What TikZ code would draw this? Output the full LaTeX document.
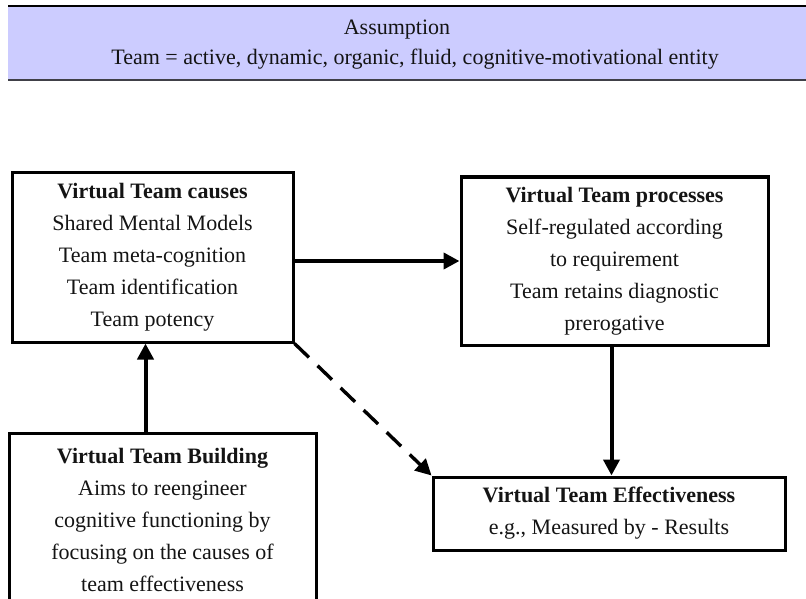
\documentclass[tikz,border=0pt]{standalone}
\usepackage{fontspec}
\setmainfont{Liberation Serif}
\usepackage{xcolor}
\usepackage{tikz}
\usetikzlibrary{arrows.meta,positioning,calc}
\definecolor{bandlavender}{RGB}{204, 204, 255}
\definecolor{bandedge}{RGB}{64, 64, 72}
\definecolor{inkblack}{RGB}{20, 20, 20}

\begin{document}
\begin{tikzpicture}[x=1pt,y=-1pt,
    txt/.style={font=\fontsize{22}{32}\selectfont,text=inkblack,align=center,inner sep=0pt},
    box/.style={txt,draw=black,line width=3pt,fill=white},
    arr/.style={line width=4pt,-{Triangle[length=16pt,width=16pt]}},
    dasharr/.style={arr,line width=3.4pt,dash pattern=on 20pt off 12pt}]
    \useasboundingbox (0,0) rectangle (806,599);
    \clip (0,0) rectangle (806,599);

    % Assumption band across the top
    \fill[bandlavender] (8,6) rectangle (812,80);
    \draw[black,line width=1.4pt] (8,6) -- (812,6);
    \draw[bandedge,line width=2pt] (8,80) -- (812,80);
    \node[txt] (assume) at (397,30) {Assumption};
    \node[txt] (teamdef) at (415,59) {Team = active, dynamic, organic, fluid, cognitive-motivational entity};

    % The four boxes
    \node[box,minimum width=281,minimum height=169] (causes) at (152.5,257.5)
        {\textbf{Virtual Team causes}\\Shared Mental Models\\Team meta-cognition\\Team identification\\Team potency};
    \node[box,minimum width=307,minimum height=168] (processes) at (614.5,261)
        {\textbf{Virtual Team processes}\\Self-regulated according\\to requirement\\Team retains diagnostic\\prerogative};
    \node[box,minimum width=307,minimum height=174] (building) at (162.5,520)
        {\textbf{Virtual Team Building}\\Aims to reengineer\\cognitive functioning by\\focusing on the causes of\\team effectiveness};
    \node[box,minimum width=352,minimum height=73] (effect) at (609,513.5)
        {\textbf{Virtual Team Effectiveness}\\e.g., Measured by - Results};

    % Arrows
    \draw[arr] (causes.east |- processes.west) -- (processes.west);
    \draw[arr] ([xshift=-3pt]processes.south) -- ([xshift=-3pt]processes.south |- effect.north);
    \draw[arr] ([xshift=-17pt]building.north) -- ([xshift=-17pt]building.north |- causes.south);
    \draw[dasharr] (causes.south east) -- (effect.north west);
\end{tikzpicture}
\end{document}
